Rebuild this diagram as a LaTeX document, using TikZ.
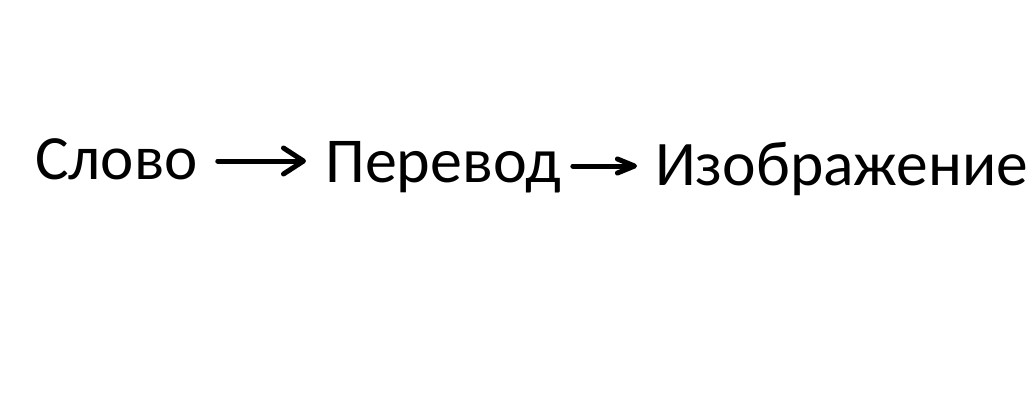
\documentclass[tikz,border=0pt]{standalone}
\usepackage{fontspec}
\setmainfont{Carlito}
\usetikzlibrary{arrows.meta}

\tikzset{
  word/.style={anchor=base west, inner sep=0pt, font=\fontsize{64}{76}\selectfont},
  arr/.style={line width=5pt, line cap=round, line join=round}
}

\begin{document}
\begin{tikzpicture}[x=1pt, y=-1pt]
    \useasboundingbox (0,0) rectangle (1033,413);
    % Words
    \node[word, font=\fontsize{63}{76}\selectfont] (slovo) at (35,179) {Слово};
    \node[word] (perevod) at (325,182) {Перевод};
    \node[word, font=\fontsize{63.5}{76}\selectfont] (izobr) at (655,185) {Изображение};

    % Arrows
    \draw[arr, -{Straight Barb[round,length=20pt,width=26pt]}] ([shift={(20,-18)}]slovo.base east) -- ([shift={(-19,-21)}]perevod.base west);
    \draw[arr, -{Straight Barb[round,length=17pt,width=14pt]}] ([shift={(12,-16)}]perevod.base east) -- ([shift={(-18,-19)}]izobr.base west);
\end{tikzpicture}
\end{document}
